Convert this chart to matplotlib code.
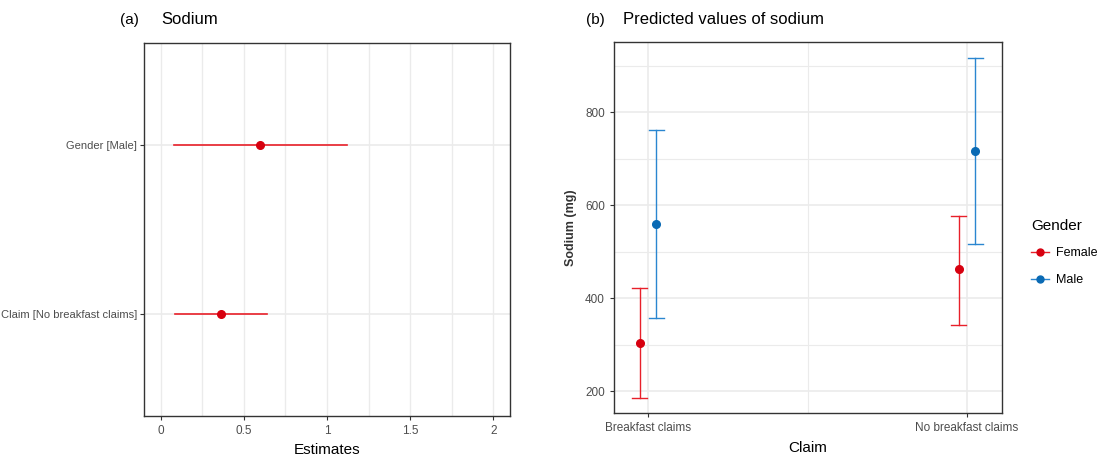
import matplotlib
matplotlib.use("Agg")
import matplotlib.pyplot as plt
from matplotlib.lines import Line2D
from matplotlib.ticker import MultipleLocator

plt.rcParams["font.family"] = ["Liberation Sans", "DejaVu Sans"]

# panel (a): model estimates
terms = ["Claim [No breakfast claims]", "Gender [Male]"]
estimates = [0.36, 0.60]
ci_low = [0.085, 0.083]
ci_high = [0.64, 1.12]

# panel (b): predicted sodium
claims = ["Breakfast claims", "No breakfast claims"]
genders = ["Female", "Male"]
pred = {"Female": [304, 462], "Male": [559, 717]}
pred_low = {"Female": [186, 343], "Male": [358, 517]}
pred_high = {"Female": [421, 577], "Male": [761, 917]}

line_col = {"Female": "#e8202a", "Male": "#2a86d0"}
pt_col = {"Female": "#d7000f", "Male": "#0a6ab4"}
grid_col = "#ebebeb"
tick_col = "#4d4d4d"

fig = plt.figure(figsize=(11.02, 4.57), dpi=100)

# ---- panel (a)
ax1 = fig.add_axes([144 / 1102, 41 / 457, 366 / 1102, 373 / 457])
ypos = [1, 2]
for y, est, lo, hi in zip(ypos, estimates, ci_low, ci_high):
    ax1.plot([lo, hi], [y, y], color=line_col["Female"], lw=1.2, zorder=3)
    ax1.plot(est, y, "o", color=pt_col["Female"], ms=5.5, zorder=4)
ax1.set_xlim(-0.1, 2.1)
ax1.set_ylim(0.4, 2.6)
ax1.set_yticks(ypos)
ax1.set_yticklabels(terms)
ax1.set_xticks([0, 0.5, 1, 1.5, 2])
ax1.set_xticklabels(["0", "0.5", "1", "1.5", "2"])
ax1.xaxis.set_minor_locator(MultipleLocator(0.25))
ax1.grid(True, which="both", axis="x", color=grid_col, lw=1.0, zorder=0)
ax1.grid(True, which="major", axis="y", color=grid_col, lw=1.2, zorder=0)
ax1.tick_params(which="minor", length=0)
ax1.set_xlabel("Estimates", fontsize=11, labelpad=4)
fig.text(120 / 1102, 1 - 20 / 457, "(a)", fontsize=11, va="center")
fig.text(161 / 1102, 1 - 20 / 457, "Sodium", fontsize=12, va="center")

# ---- panel (b)
ax2 = fig.add_axes([614 / 1102, 44 / 457, 388 / 1102, 371 / 457])
offsets = {"Female": -0.026, "Male": 0.026}
cap = 0.024
for g in genders:
    for i, c in enumerate(claims):
        x = i + 1 + offsets[g]
        ax2.plot([x, x], [pred_low[g][i], pred_high[g][i]], color=line_col[g], lw=1.0, zorder=3)
        for yy in (pred_low[g][i], pred_high[g][i]):
            ax2.plot([x - cap, x + cap], [yy, yy], color=line_col[g], lw=1.0, zorder=3)
        ax2.plot(x, pred[g][i], "o", color=pt_col[g], ms=5.5, zorder=4)
ax2.set_xlim(0.893, 2.11)
ax2.set_ylim(153, 951)
ax2.set_xticks([1, 2])
ax2.set_xticklabels(claims)
ax2.set_yticks([200, 400, 600, 800])
ax2.xaxis.set_minor_locator(MultipleLocator(0.5))
ax2.yaxis.set_minor_locator(MultipleLocator(100))
ax2.grid(True, which="major", color=grid_col, lw=1.2, zorder=0)
ax2.grid(True, which="minor", color=grid_col, lw=0.8, zorder=0)
ax2.tick_params(which="minor", length=0)
ax2.set_xlabel("Claim", fontsize=11, labelpad=5)
ax2.set_ylabel("Sodium (mg)", fontsize=9, fontweight="bold", color="#333333", labelpad=6)
fig.text(586 / 1102, 1 - 20 / 457, "(b)", fontsize=11, va="center")
fig.text(623 / 1102, 1 - 20 / 457, "Predicted values of sodium", fontsize=12, va="center")

handles = [Line2D([0], [0], color=line_col[g], lw=1.0, marker="o", ms=5,
                  markerfacecolor=pt_col[g], markeredgecolor=pt_col[g]) for g in genders]
leg = fig.legend(handles, genders, title="Gender", loc="upper left",
                 bbox_to_anchor=(1031 / 1102, 1 - 219 / 457), frameon=False,
                 fontsize=9, title_fontsize=11, handlelength=1.4, handletextpad=0.6,
                 labelspacing=1.2, borderpad=0, borderaxespad=0)
leg._legend_box.align = "left"
leg._legend_box.sep = 10

for ax in (ax1, ax2):
    for s in ax.spines.values():
        s.set_color("#333333")
        s.set_linewidth(1.0)
    ax.tick_params(which="major", length=3, color="#333333", labelcolor=tick_col, labelsize=8.5)
ax1.tick_params(axis="y", labelsize=8, pad=2)

fig.savefig("out.png", dpi=100)
